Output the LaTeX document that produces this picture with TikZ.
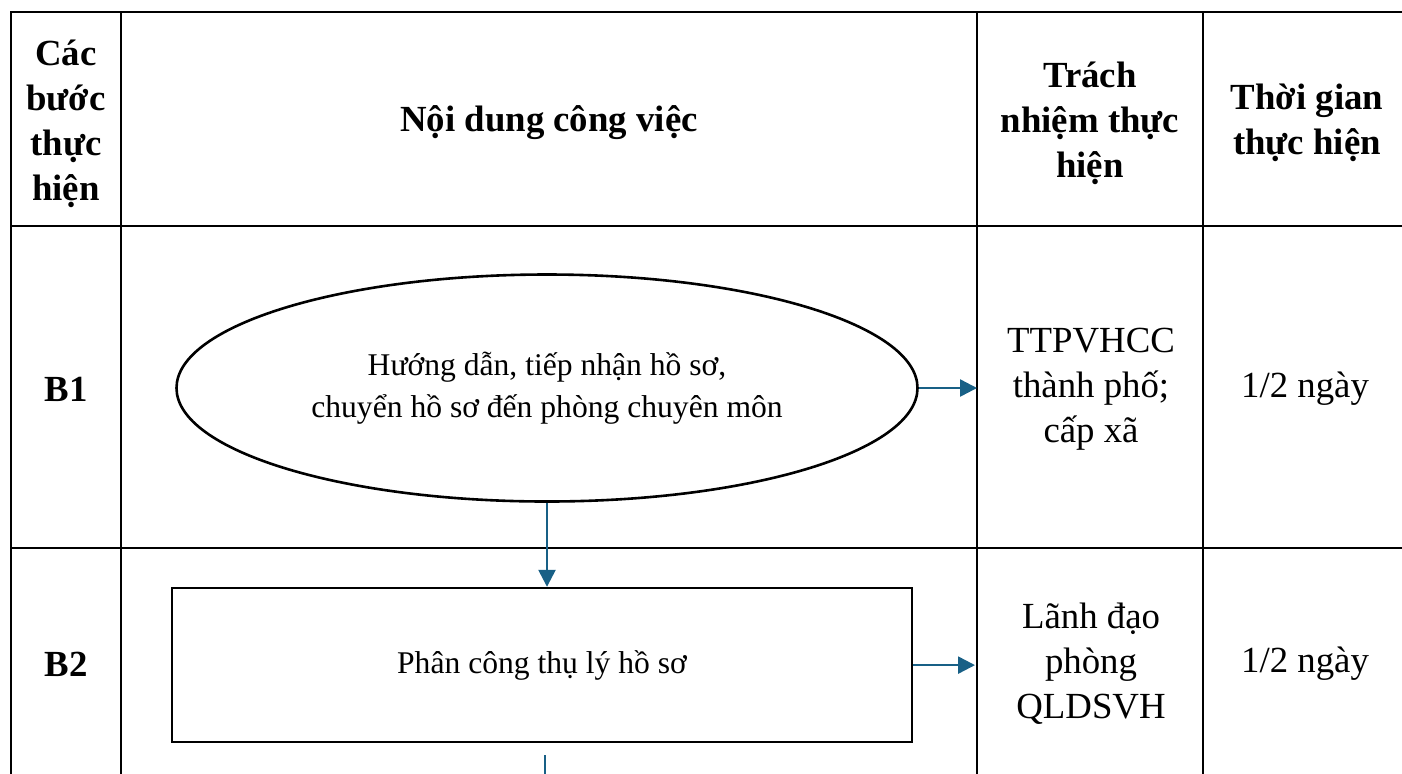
\documentclass[tikz,border=0pt]{standalone}
\usepackage{fontspec}
\setmainfont{Liberation Serif}
\usetikzlibrary{arrows.meta,positioning,shapes.geometric}
\definecolor{flowblue}{RGB}{24,96,134}
\tikzset{
cell/.style={align=center,font=\fontsize{18.4}{22.5}\selectfont},
headcell/.style={cell,font=\fontsize{18.4}{22.5}\selectfont\bfseries},
stepstart/.style={draw,ellipse,line width=1.3pt,minimum width=370.5pt,minimum height=113.5pt,align=center,font=\fontsize{15.8}{21}\selectfont},
task/.style={draw,line width=1.3pt,minimum width=370pt,minimum height=77pt,align=center,font=\fontsize{15.8}{21}\selectfont},
grid/.style={line width=1pt},
flow/.style={-{Triangle[length=8.5pt,width=8.5pt]},line width=1.25pt,flowblue}
}
\begin{document}
\begin{tikzpicture}[x=0.5pt,y=-0.5pt,node distance=42pt]
\useasboundingbox (0,0) rectangle (1402,773);
\clip (0,0) rectangle (1402,773);
% table
\draw[grid] (11,790) -- (11,12) -- (1420,12);
\draw[grid] (11,226) -- (1420,226);
\draw[grid] (11,548) -- (1420,548);
\foreach \x in {121,977,1203}
  \draw[grid] (\x,12) -- (\x,790);
% header
\node[headcell] (hstep) at (66,124) {Các\\bước\\thực\\hiện};
\node[headcell] (hwork) at (549,123) {Nội dung công việc};
\node[headcell] (hresp) at (1090,123) {Trách\\nhiệm thực\\hiện};
\node[headcell] (htime) at (1307,123) {Thời gian\\thực hiện};
% B1
\node[headcell] (b1) at (66,389) {B1};
\node[stepstart] (guide) at (547,388) {Hướng dẫn, tiếp nhận hồ sơ,\\chuyển hồ sơ đến phòng chuyên môn};
\node[cell] (resp1) at (1091,389) {TTPVHCC\\thành phố;\\cấp xã};
\node[cell] (time1) at (1305,389) {1/2 ngày};
% B2
\node[headcell] (b2) at (66,664) {B2};
\node[task,below=42pt of guide,xshift=-2.5pt] (assign) {Phân công thụ lý hồ sơ};
\node[cell] (resp2) at (1091,664) {Lãnh đạo\\phòng\\QLDSVH};
\node[cell] (time2) at (1305,664) {1/2 ngày};
% connectors
\coordinate (out1) at (977,388);
\coordinate (out2) at (975,663);
\coordinate (next) at (545,755);
\coordinate (nextend) at (545,800);
\draw[flow] (guide.east) -- (out1);
\draw[flow] (guide.south) -- (guide.south |- assign.north);
\draw[flow] (assign.east) -- (assign.east -| out2);
\draw[line width=1.25pt,flowblue] (next) -- (nextend);
\end{tikzpicture}
\end{document}
